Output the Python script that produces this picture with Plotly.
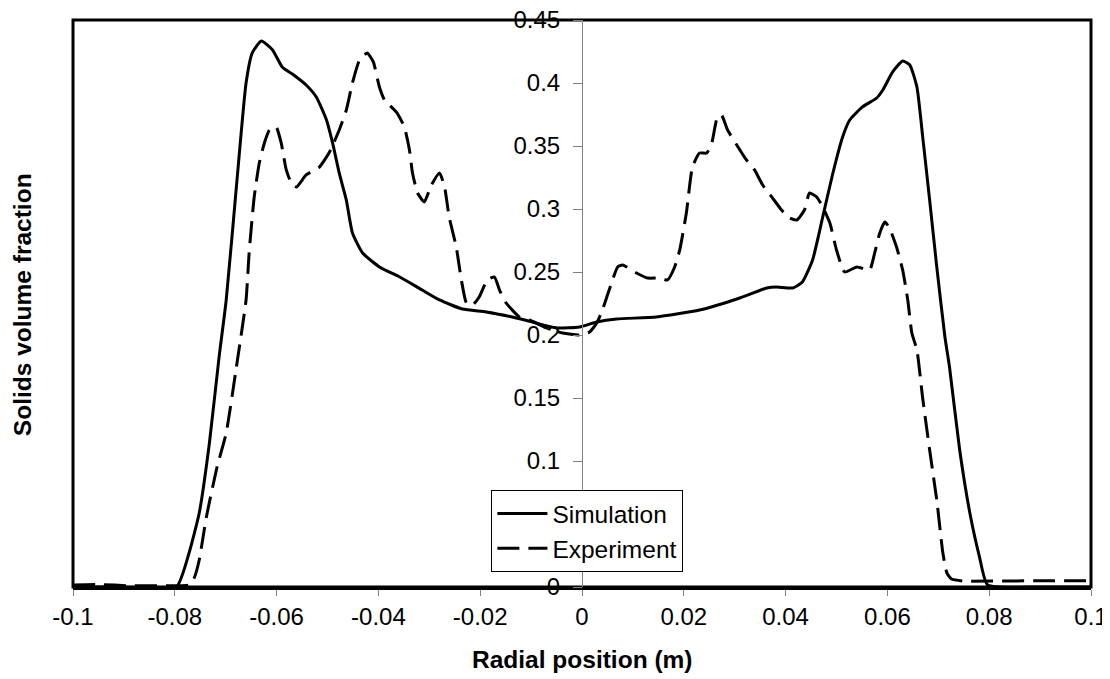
import plotly.graph_objects as go

# Simulation (solid)
sim_x = [-0.1, -0.09, -0.0797, -0.0772, -0.0752, -0.0732, -0.0713, -0.0699, -0.0679, -0.0660, -0.0648,
         -0.0630, -0.0608, -0.0589, -0.0569, -0.0542, -0.0522, -0.0502, -0.0490, -0.0477, -0.0463,
         -0.0451, -0.0431, -0.0398, -0.0358, -0.0314, -0.0280, -0.0235, -0.0188, -0.0137, -0.0097,
         -0.0050, -0.0005, 0.0029, 0.0068, 0.0146, 0.0231, 0.0310, 0.0363, 0.0382, 0.0414, 0.0433,
         0.0453, 0.0473, 0.0492, 0.0512, 0.0526, 0.0551, 0.0579, 0.0591, 0.0610, 0.0630, 0.0644,
         0.0658, 0.0670, 0.0683, 0.0697, 0.0713, 0.0722, 0.0742, 0.0762, 0.0781, 0.0797, 0.09, 0.1]
sim_y = [0.0, 0.0, 0.0, 0.027, 0.0587, 0.1143, 0.1825, 0.2278, 0.3175, 0.400, 0.4238,
         0.4333, 0.4262, 0.4127, 0.4071, 0.3984, 0.3889, 0.3706, 0.3524, 0.3286, 0.3071,
         0.2810, 0.2651, 0.2540, 0.2460, 0.2357, 0.2278, 0.2206, 0.2183, 0.2143, 0.2103,
         0.2056, 0.2063, 0.2103, 0.2127, 0.2143, 0.2198, 0.2294, 0.2373, 0.2381, 0.2373, 0.2421,
         0.2595, 0.2937, 0.3270, 0.3571, 0.3706, 0.3810, 0.3881, 0.3944, 0.4087, 0.4175, 0.4143,
         0.3968, 0.3548, 0.3071, 0.2540, 0.1984, 0.1746, 0.1087, 0.0587, 0.0238, 0.0016, 0.0, 0.0]

# Experiment (dashed)
exp_x = [-0.1, -0.0948, -0.089, -0.080, -0.0772, -0.0762, -0.0752, -0.0738, -0.0717, -0.0699, -0.0679,
         -0.0660, -0.0654, -0.0644, -0.0634, -0.0624, -0.0614, -0.0601, -0.0591, -0.0581, -0.0571,
         -0.0561, -0.0542, -0.0516, -0.0496, -0.0477, -0.0463, -0.0451, -0.0437, -0.0422, -0.0410,
         -0.0398, -0.0388, -0.0365, -0.0349, -0.0339, -0.0333, -0.0323, -0.0310, -0.0296, -0.0280,
         -0.0270, -0.0261, -0.0247, -0.0237, -0.0227, -0.0215, -0.0202, -0.0186, -0.0172, -0.0162,
         -0.0149, -0.0123, -0.0103, -0.0070, -0.0038, -0.0005, 0.0015, 0.0029, 0.0040, 0.0060,
         0.0070, 0.0080, 0.0107, 0.0129, 0.0152, 0.0168, 0.0182, 0.0192, 0.0205, 0.0217, 0.0231,
         0.0245, 0.0255, 0.0266, 0.0274, 0.0286, 0.0304, 0.0323, 0.0339, 0.0355, 0.0373, 0.0392,
         0.0408, 0.0422, 0.0437, 0.0447, 0.0461, 0.0473, 0.0487, 0.0500, 0.0516, 0.0540, 0.0565,
         0.0575, 0.0585, 0.0595, 0.0604, 0.0618, 0.0630, 0.0640, 0.0648, 0.0658, 0.0669, 0.0683,
         0.0697, 0.0709, 0.0717, 0.0726, 0.0748, 0.09, 0.1]
exp_y = [0.0016, 0.002, 0.001, 0.001, 0.0016, 0.0071, 0.0214, 0.0556, 0.0952, 0.1222, 0.1746,
         0.2278, 0.2651, 0.3095, 0.3365, 0.3524, 0.3627, 0.3651, 0.3524, 0.3310, 0.3206,
         0.3175, 0.3270, 0.3333, 0.3452, 0.3627, 0.3786, 0.4000, 0.4183, 0.4238, 0.4167,
         0.3968, 0.3865, 0.3770, 0.3651, 0.3468, 0.3286, 0.3127, 0.3056, 0.3190, 0.3286,
         0.3175, 0.2937, 0.2698, 0.2437, 0.2254, 0.2238, 0.2302, 0.2437, 0.2460, 0.2357,
         0.2254, 0.2143, 0.2119, 0.2056, 0.2016, 0.2000, 0.2024, 0.2095, 0.2198, 0.2437,
         0.2540, 0.2556, 0.2492, 0.2452, 0.2452, 0.2437, 0.2540, 0.2675, 0.2968, 0.3333, 0.3444,
         0.3444, 0.3524, 0.3730, 0.3746, 0.3627, 0.3508, 0.3389, 0.3310, 0.3190, 0.3095, 0.2992,
         0.2929, 0.2913, 0.2992, 0.3127, 0.3095, 0.3016, 0.2889, 0.2675, 0.2500, 0.2540, 0.2516,
         0.2651, 0.2810, 0.2897, 0.2849, 0.2698, 0.2516, 0.2278, 0.2016, 0.1881, 0.1508, 0.1087,
         0.0690, 0.0270, 0.0111, 0.0063, 0.0048, 0.005, 0.005]

x_ticks = [-0.1, -0.08, -0.06, -0.04, -0.02, 0, 0.02, 0.04, 0.06, 0.08, 0.1]
x_tick_text = ["-0.1", "-0.08", "-0.06", "-0.04", "-0.02", "0", "0.02", "0.04", "0.06", "0.08", "0.1"]
y_ticks = [0, 0.05, 0.1, 0.15, 0.2, 0.25, 0.3, 0.35, 0.4, 0.45]
y_tick_text = ["0", "", "0.1", "0.15", "0.2", "0.25", "0.3", "0.35", "0.4", "0.45"]

FONT = "Arial, Liberation Sans, sans-serif"

fig = go.Figure()
fig.add_trace(go.Scatter(x=sim_x, y=sim_y, mode="lines", name="Simulation",
                         line=dict(color="black", width=3, shape="spline", smoothing=0.5)))
fig.add_trace(go.Scatter(x=exp_x, y=exp_y, mode="lines", name="Experiment",
                         line=dict(color="black", width=3, dash="22px,9px", shape="spline", smoothing=0.5)))

fig.update_layout(
    width=1102, height=671,
    margin=dict(l=65, r=19, t=12, b=92, autoexpand=False),
    paper_bgcolor="white", plot_bgcolor="white",
    font=dict(family=FONT, size=24, color="black"),
    showlegend=True,
    legend=dict(x=0.411, y=0.171, xanchor="left", yanchor="top",
                bgcolor="white", bordercolor="black", borderwidth=1,
                font=dict(size=24.5, family=FONT), tracegroupgap=0, itemwidth=50),
    xaxis=dict(range=[-0.1, 0.1], tickvals=x_ticks, ticktext=x_tick_text, automargin=False,
               showgrid=False, zeroline=False, showline=True, linecolor="black", linewidth=3,
               ticks="outside", ticklen=6, tickcolor="#808080", tickwidth=1,
               ticklabeloverflow="allow",
               tickfont=dict(size=24, family=FONT)),
    yaxis=dict(range=[0, 0.45], tickvals=y_ticks, ticktext=y_tick_text, automargin=False,
               anchor="free", position=0.5,
               showgrid=False, zeroline=False, showline=True, linecolor="#808080", linewidth=1,
               ticks="outside", ticklen=9, tickcolor="#808080", tickwidth=1,
               ticklabelstandoff=8, ticklabeloverflow="allow",
               tickfont=dict(size=24, family=FONT)),
    shapes=[dict(type="rect", xref="paper", yref="paper", x0=0, x1=1, y0=0, y1=1,
                 line=dict(color="black", width=3), layer="below")],
    annotations=[
        dict(text="<b>Radial position (m)</b>", xref="paper", yref="paper", x=0.5, y=-0.1287,
             xanchor="center", yanchor="middle", showarrow=False, font=dict(size=24.5, family=FONT)),
        dict(text="<b>Solids volume fraction</b>", xref="paper", yref="paper", x=-0.0496, y=0.498,
             xanchor="center", yanchor="middle", textangle=-90, showarrow=False,
             font=dict(size=24.5, family=FONT)),
    ],
)

fig.write_html("out.html")
